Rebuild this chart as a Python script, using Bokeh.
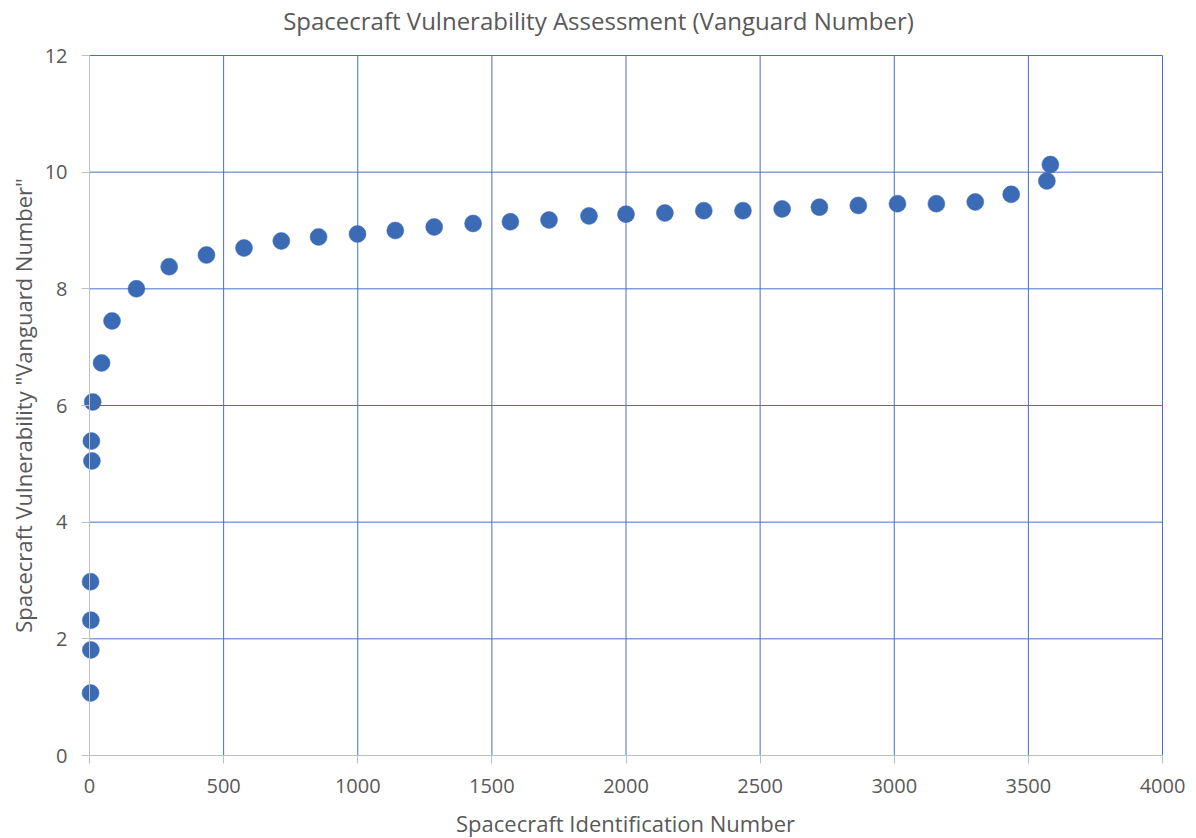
from bokeh.plotting import figure
from bokeh.models import Range1d, FixedTicker, Label, ColumnDataSource
from bokeh.embed import file_html
from bokeh.resources import INLINE

# ---- data ----
spacecraft_id = [4, 5, 5, 4, 9, 7, 12, 45, 84, 175, 297, 436, 576, 715, 854, 999,
                 1140, 1285, 1430, 1569, 1713, 1862, 2000, 2145, 2290, 2436, 2582,
                 2721, 2866, 3012, 3157, 3302, 3436, 3569, 3582]
vanguard_number = [1.07, 1.81, 2.32, 2.98, 5.05, 5.39, 6.06, 6.73, 7.45, 8.00, 8.38,
                   8.58, 8.70, 8.82, 8.89, 8.94, 9.00, 9.06, 9.12, 9.15, 9.18, 9.25,
                   9.28, 9.30, 9.34, 9.34, 9.37, 9.40, 9.43, 9.46, 9.46, 9.49, 9.62,
                   9.85, 10.13]
x_ticks = [0, 500, 1000, 1500, 2000, 2500, 3000, 3500, 4000]
y_ticks = [0, 2, 4, 6, 8, 10, 12]

title_text = "Spacecraft Vulnerability Assessment (Vanguard Number)"
x_title = "Spacecraft Identification Number"
y_title = 'Spacecraft Vulnerability "Vanguard Number"'

# ---- geometry (canvas pixels) ----
W, H = 1196, 838
AX_X0, AX_X1 = 89, 1162     # canvas x of first / last x tick
AX_Y0, AX_Y1 = 755, 55      # canvas y of first / last y tick
ppx = (AX_X1 - AX_X0) / (x_ticks[-1] - x_ticks[0])
ppy = (AX_Y0 - AX_Y1) / (y_ticks[-1] - y_ticks[0])
x_start = x_ticks[0] - AX_X0 / ppx
x_end = x_ticks[-1] + (W - AX_X1) / ppx
y_start = y_ticks[0] - (H - AX_Y0) / ppy
y_end = y_ticks[-1] + AX_Y1 / ppy

FONT = "Open Sans"
TXT = "#595959"
GRID = "#4472C4"
AXIS = "#BFBFBF"
MARK = "#3C6BB6"

p = figure(width=W, height=H, output_backend="svg", toolbar_location=None,
           x_range=Range1d(x_start, x_end), y_range=Range1d(y_start, y_end),
           min_border_left=0, min_border_right=0, min_border_top=0, min_border_bottom=0)
p.outline_line_color = None
p.background_fill_color = "white"
p.border_fill_color = "white"
p.xgrid.visible = False
p.ygrid.visible = False

# grid lines bounded to the axis extent
p.segment(x0=[x_ticks[0]] * (len(y_ticks) - 1), x1=[x_ticks[-1]] * (len(y_ticks) - 1),
          y0=y_ticks[1:], y1=y_ticks[1:], line_color=GRID, line_width=1, level="underlay")
p.segment(x0=x_ticks[1:], x1=x_ticks[1:], y0=[y_ticks[0]] * (len(x_ticks) - 1),
          y1=[y_ticks[-1]] * (len(x_ticks) - 1), line_color=GRID, line_width=1, level="underlay")

src = ColumnDataSource(dict(x=spacecraft_id, y=vanguard_number))
p.scatter("x", "y", source=src, size=17, fill_color=MARK, line_color=MARK, line_width=0.5)

# x axis drawn at y = 0
xa = p.xaxis[0]
xa.fixed_location = y_ticks[0]
xa.ticker = FixedTicker(ticks=x_ticks)
xa.bounds = (x_ticks[0], x_ticks[-1])
xa.axis_line_color = AXIS
xa.major_tick_line_color = AXIS
xa.major_tick_out = 8
xa.major_tick_in = 0
xa.minor_tick_line_color = None
xa.major_label_standoff = 15
xa.major_label_text_font = FONT
xa.major_label_text_font_size = "20px"
xa.major_label_text_color = TXT

# y axis drawn at x = 0
ya = p.yaxis[0]
ya.fixed_location = x_ticks[0]
ya.ticker = FixedTicker(ticks=y_ticks)
ya.bounds = (y_ticks[0], y_ticks[-1])
ya.axis_line_color = AXIS
ya.major_tick_line_color = AXIS
ya.major_tick_out = 8
ya.major_tick_in = 0
ya.minor_tick_line_color = None
ya.major_label_standoff = 14
ya.major_label_text_font = FONT
ya.major_label_text_font_size = "20px"
ya.major_label_text_color = TXT

# titles as labels (screen units from the frame's bottom-left = canvas bottom-left)
p.add_layout(Label(x=598, y=H - 20, x_units="screen", y_units="screen",
                   text=title_text, text_font=FONT, text_font_size="24px", text_color=TXT,
                   text_align="center", text_baseline="middle"))
p.add_layout(Label(x=625, y=H - 822, x_units="screen", y_units="screen",
                   text=x_title, text_font=FONT, text_font_size="22px", text_color=TXT,
                   text_align="center", text_baseline="middle"))
p.add_layout(Label(x=22, y=H - 405, x_units="screen", y_units="screen",
                   text=y_title, text_font=FONT, text_font_size="22px", text_color=TXT,
                   text_align="center", text_baseline="middle", angle=90, angle_units="deg"))

open("out.html", "w").write(file_html(p, INLINE))
